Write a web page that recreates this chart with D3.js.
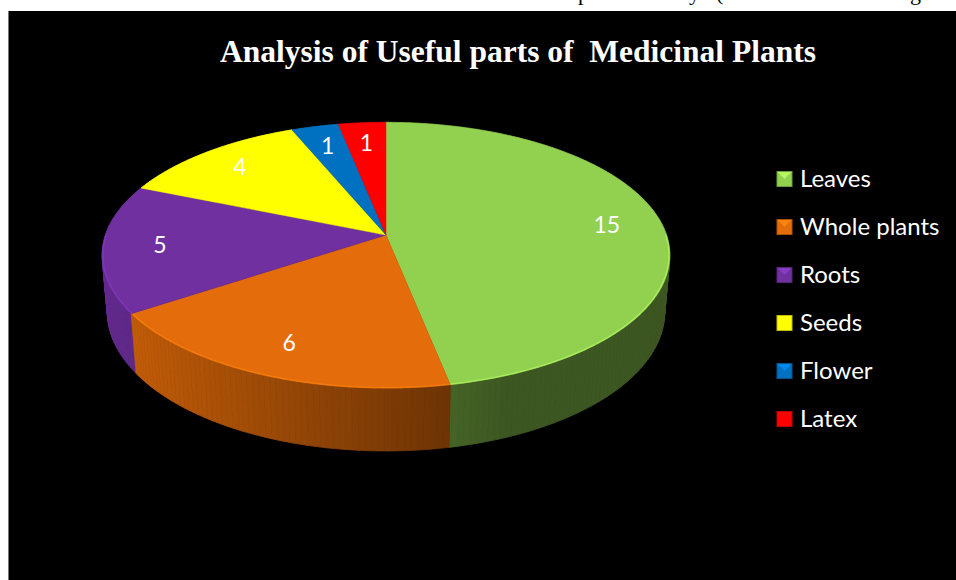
<!DOCTYPE html>
<html>
<head>
<meta charset="utf-8">
<script src="https://cdn.jsdelivr.net/npm/d3@7"></script>
<style>
  body { margin: 0; background: #fff; }
  svg { display: block; }
</style>
</head>
<body>
<div id="chart"></div>
<script>
// data
var categories = ["Leaves", "Whole plants", "Roots", "Seeds", "Flower", "Latex"];
var values = [15, 6, 5, 4, 1, 1];
var colors = ["#92d050", "#e46c0a", "#7030a0", "#ffff00", "#0070c0", "#ff0000"];
var title = "Analysis of Useful parts of  Medicinal Plants";

var width = 956, height = 580;

var svg = d3.select("#chart").append("svg")
    .attr("width", width).attr("height", height);

// cut-off line of the page text above the chart
var pageText = svg.append("g").attr("font-family", "Liberation Serif, DejaVu Serif, serif")
    .attr("font-size", 22).attr("fill", "#000");
pageText.append("text").attr("x", 578).attr("y", 0).attr("textLength", 122).text("partially");
pageText.append("text").attr("x", 716).attr("y", 0).text("(");
pageText.append("text").attr("x", 899).attr("y", 0).text("ng");

// black chart area
svg.append("rect").attr("x", 8).attr("y", 11).attr("width", width - 8).attr("height", height - 11)
    .attr("fill", "#000");
svg.append("line").attr("x1", 8.5).attr("x2", 8.5).attr("y1", 11).attr("y2", height)
    .attr("stroke", "#777").attr("stroke-width", 1);

svg.append("text")
    .attr("x", 518).attr("y", 62)
    .attr("text-anchor", "middle")
    .attr("font-family", "Liberation Serif, DejaVu Serif, serif")
    .attr("font-weight", "bold")
    .attr("font-size", 31.5)
    .attr("fill", "#fff")
    .style("white-space", "pre")
    .text(title);

// perspective for the 3d pie (unit radius disc)
var cx = 386, cy = 235, focal = 1632, dist = 5.817;
var sinT = 0.4627, cosT = 0.8865, thick = 0.23;

function proj(a, r, h) {
  var X = r * Math.sin(a), Z = r * Math.cos(a);
  var yc = Z * sinT + h * cosT;
  var d = dist + Z * cosT - h * sinT;
  return [cx + focal * X / d, cy - focal * yc / d];
}

function arcPts(a0, a1, r, h) {
  var n = Math.max(2, Math.ceil((a1 - a0) / 0.01));
  return d3.range(n + 1).map(function(i) { return proj(a0 + (a1 - a0) * i / n, r, h); });
}

var pie = d3.pie().sort(null).value(function(d) { return d; });
var arcs = pie(values);

// side walls, made of thin strips so the shade can follow the angle
var walls = svg.append("g");
var strips = [];
arcs.forEach(function(s, i) {
  var step = 0.02;
  for (var a = s.startAngle; a < s.endAngle - 1e-6; a += step) {
    var b = Math.min(a + step, s.endAngle);
    strips.push({a0: a, a1: b, i: i});
  }
});
strips.sort(function(p, q) { return Math.cos(q.a0) - Math.cos(p.a0); });
strips.forEach(function(st) {
  var m = (st.a0 + st.a1) / 2;
  var k = Math.max(0.42, Math.min(0.88, 0.55 - 0.36 * Math.sin(m)));
  var c = d3.rgb(colors[st.i]);
  var fill = d3.rgb(c.r * k, c.g * k, c.b * k);
  var pts = arcPts(st.a0, st.a1, 1, 0).concat(arcPts(st.a0, st.a1, 1, -thick).reverse());
  walls.append("path").attr("d", "M" + pts.join("L") + "Z")
      .attr("fill", fill).attr("stroke", fill).attr("stroke-width", 0.8);
});

// top faces
var tops = svg.append("g");
arcs.forEach(function(s, i) {
  var pts = [proj(0, 0, 0)].concat(arcPts(s.startAngle, s.endAngle, 1, 0));
  tops.append("path").attr("d", "M" + pts.join("L") + "Z")
      .attr("fill", colors[i]).attr("stroke", colors[i]).attr("stroke-width", 0.5);
  // light edge along the front rim
  var a0 = Math.max(s.startAngle, Math.PI / 2), a1 = Math.min(s.endAngle, 3 * Math.PI / 2);
  if (a1 > a0) {
    tops.append("path").attr("d", "M" + arcPts(a0, a1, 0.997, 0).join("L"))
        .attr("fill", "none").attr("stroke", d3.rgb(colors[i]).brighter(0.6))
        .attr("stroke-width", 1.5).attr("opacity", 0.6);
  }
});

// data labels
svg.append("g").selectAll("text").data(arcs).join("text")
    .attr("transform", function(s) {
      var p = proj((s.startAngle + s.endAngle) / 2, 0.8, 0);
      return "translate(" + p[0] + "," + p[1] + ")";
    })
    .attr("text-anchor", "middle")
    .attr("dy", "0.35em")
    .attr("font-family", "Lato, Open Sans, sans-serif")
    .attr("font-size", 23)
    .attr("fill", "#fff")
    .text(function(s) { return s.data; });

// legend
var legend = svg.append("g").attr("transform", "translate(777,179)");
var rows = legend.selectAll("g").data(categories).join("g")
    .attr("transform", function(d, i) { return "translate(0," + i * 48 + ")"; });
rows.append("rect").attr("x", 0).attr("y", -7.5).attr("width", 15).attr("height", 15)
    .attr("fill", function(d, i) { return colors[i]; })
    .attr("stroke", function(d, i) { return d3.rgb(colors[i]).darker(0.8); });
rows.append("path").attr("d", "M0.5,-7L14.5,-7L7.5,0Z")
    .attr("fill", function(d, i) { return d3.rgb(colors[i]).brighter(0.7); })
    .attr("opacity", 0.8);
rows.append("text").attr("x", 23).attr("dy", "0.35em")
    .attr("font-family", "Lato, Open Sans, sans-serif")
    .attr("font-size", 24)
    .attr("fill", "#fff")
    .text(function(d) { return d; });
</script>
</body>
</html>
